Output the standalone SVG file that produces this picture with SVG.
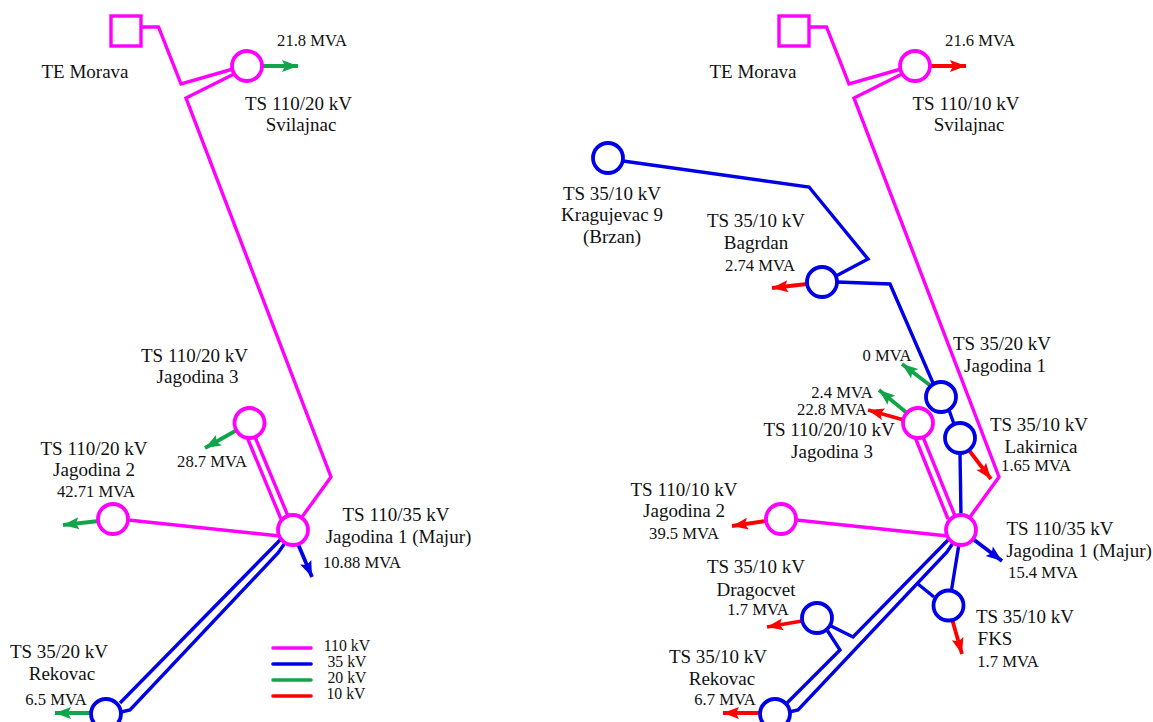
<svg xmlns="http://www.w3.org/2000/svg" width="1153" height="722" viewBox="0 0 1153 722">
<style>
text{font-family:"Liberation Serif","Times New Roman",serif;fill:#111;text-anchor:middle}
.n{font-size:19px}
.v{font-size:16.6px}
.s{font-size:15.8px}
.l{fill:none;stroke-width:3.4;stroke-linejoin:miter}
.c{fill:#fff;stroke-width:3.8}
.m{stroke:#ff00ff}
.b{stroke:#0000e6}
.g{stroke:#10a54a}
.r{stroke:#ff0000}
.a{fill:none;stroke-width:3.8}
.lg{fill:none;stroke-width:3.6;stroke-linecap:round}
</style>
<defs>
<marker id="ag" markerUnits="userSpaceOnUse" markerWidth="20" markerHeight="16" refX="18" refY="8" orient="auto"><path d="M18,8L2,2L5,8L2,14Z" fill="#10a54a"/></marker>
<marker id="ar" markerUnits="userSpaceOnUse" markerWidth="20" markerHeight="16" refX="18" refY="8" orient="auto"><path d="M18,8L2,2L5,8L2,14Z" fill="#ff0000"/></marker>
<marker id="ab" markerUnits="userSpaceOnUse" markerWidth="20" markerHeight="16" refX="18" refY="8" orient="auto"><path d="M18,8L2,2L5,8L2,14Z" fill="#0000e6"/></marker>
</defs>
<g id="connectors">
<path class="l m" d="M141,27H158.5L181,84L233,69"/>
<path class="l m" d="M234,74L186,98L331,477L302,517"/>
<path class="l m" d="M247,437L281,519M255,437L288,516"/>
<path class="l m" d="M128,520L280,536"/>
<path class="l b" d="M282,538L120,703"/>
<path class="l b" d="M285,543L278,553L130,710L121,712"/>
<path class="a g" marker-end="url(#ag)" d="M262,66H298"/>
<path class="a g" marker-end="url(#ag)" d="M237,430L205,448"/>
<path class="a g" marker-end="url(#ag)" d="M99,521L63,525"/>
<path class="a b" marker-end="url(#ab)" d="M298,544L312,577"/>
<path class="a g" marker-end="url(#ag)" d="M91,713H55"/>
<path class="l m" d="M809,27H826.5L849,84L901,69"/>
<path class="l m" d="M902,74L854,98L999,477L970,517"/>
<path class="l m" d="M915,437L948,519M923,437L955,516"/>
<path class="l m" d="M796,520L948,536"/>
<path class="l b" d="M623,161L809,187L868,259L836,276"/>
<path class="l b" d="M837,282L890,284L933,383"/>
<path class="l b" d="M949,410L954,424"/>
<path class="l b" d="M960,452L961,517"/>
<path class="l b" d="M950,538L853,637L829,625"/>
<path class="l b" d="M953,543L947,552L798,710L789,712"/>
<path class="l b" d="M827,630L840,650L787,703"/>
<path class="l b" d="M959,544L951.500,590"/>
<path class="l b" d="M918,584L934,597"/>
<path class="a r" marker-end="url(#ar)" d="M930,66H966"/>
<path class="a r" marker-end="url(#ar)" d="M807,284L772,288"/>
<path class="a g" marker-end="url(#ag)" d="M931,386L902,364"/>
<path class="a g" marker-end="url(#ag)" d="M907,413L879,390"/>
<path class="a r" marker-end="url(#ar)" d="M904,420L868,410"/>
<path class="a r" marker-end="url(#ar)" d="M968,449L991,479"/>
<path class="a r" marker-end="url(#ar)" d="M766,521L732,526"/>
<path class="a b" marker-end="url(#ab)" d="M973,539L1002,561"/>
<path class="a r" marker-end="url(#ar)" d="M802,621L767,627"/>
<path class="a r" marker-end="url(#ar)" d="M952,619L962,654"/>
<path class="a r" marker-end="url(#ar)" d="M759,713H723"/>
</g>
<g id="n-te-morava-l"><rect x="111" y="16" width="30" height="30" fill="#fff" stroke="#ff00ff" stroke-width="3.4"/><text class="n" x="85" y="78">TE Morava</text></g>
<g id="n-svilajnac-l"><circle class="c m" cx="247" cy="66" r="15"/><text class="v" x="312" y="46">21.8 MVA</text><text class="n" x="298.500" y="110">TS 110/20 kV</text><text class="n" x="301" y="131">Svilajnac</text></g>
<g id="n-jagodina3-l"><circle class="c m" cx="249.500" cy="423" r="15"/><text class="n" x="194.500" y="362">TS 110/20 kV</text><text class="n" x="197.500" y="383">Jagodina 3</text><text class="v" x="212" y="467">28.7 MVA</text></g>
<g id="n-jagodina2-l"><circle class="c m" cx="113" cy="519" r="15"/><text class="n" x="94" y="455">TS 110/20 kV</text><text class="n" x="94" y="476">Jagodina 2</text><text class="v" x="96" y="497">42.71 MVA</text></g>
<g id="n-majur-l"><circle class="c m" cx="293" cy="530" r="15"/><text class="n" x="396" y="521">TS 110/35 kV</text><text class="n" x="398.500" y="543">Jagodina 1 (Majur)</text><text class="v" x="362" y="568">10.88 MVA</text></g>
<g id="n-rekovac-l"><circle class="c b" cx="106" cy="714" r="15"/><text class="n" x="59" y="658">TS 35/20 kV</text><text class="n" x="62" y="680">Rekovac</text><text class="v" x="56" y="705">6.5 MVA</text></g>
<g id="legend">
<path class="lg m" d="M273,648H311"/><path class="lg b" d="M273,664H311"/><path class="lg g" d="M273,680H311"/><path class="lg r" d="M273,696H311"/>
<text class="s" x="347" y="651">110 kV</text><text class="s" x="347" y="667">35 kV</text><text class="s" x="347" y="683">20 kV</text><text class="s" x="346" y="699">10 kV</text>
</g>
<g id="n-te-morava-r"><rect x="779" y="16" width="30" height="30" fill="#fff" stroke="#ff00ff" stroke-width="3.4"/><text class="n" x="753" y="78">TE Morava</text></g>
<g id="n-svilajnac-r"><circle class="c m" cx="915" cy="66" r="15"/><text class="v" x="980" y="46">21.6 MVA</text><text class="n" x="966" y="110">TS 110/10 kV</text><text class="n" x="969" y="131">Svilajnac</text></g>
<g id="n-kragujevac"><circle class="c b" cx="608" cy="158" r="15"/><text class="n" x="612" y="200">TS 35/10 kV</text><text class="n" x="612" y="221">Kragujevac 9</text><text class="n" x="612" y="243">(Brzan)</text></g>
<g id="n-bagrdan"><circle class="c b" cx="822" cy="282" r="15"/><text class="n" x="756" y="227">TS 35/10 kV</text><text class="n" x="756" y="249">Bagrdan</text><text class="v" x="760" y="271">2.74 MVA</text></g>
<g id="n-jagodina1"><circle class="c b" cx="941" cy="397" r="15"/><text class="n" x="1002" y="350">TS 35/20 kV</text><text class="n" x="1005" y="372">Jagodina 1</text><text class="v" x="887" y="361">0 MVA</text></g>
<g id="n-lakirnica"><circle class="c b" cx="960" cy="438" r="15"/><text class="n" x="1039" y="431">TS 35/10 kV</text><text class="n" x="1041" y="453">Lakirnica</text><text class="v" x="1036" y="471">1.65 MVA</text></g>
<g id="n-jagodina3-r"><circle class="c m" cx="918" cy="423" r="15"/><text class="v" x="842" y="398">2.4 MVA</text><text class="v" x="832" y="415">22.8 MVA</text><text class="n" x="829" y="436">TS 110/20/10 kV</text><text class="n" x="832" y="458">Jagodina 3</text></g>
<g id="n-jagodina2-r"><circle class="c m" cx="781" cy="519" r="15"/><text class="n" x="684" y="496">TS 110/10 kV</text><text class="n" x="684" y="517">Jagodina 2</text><text class="v" x="684" y="539">39.5 MVA</text></g>
<g id="n-majur-r"><circle class="c m" cx="961" cy="530" r="15"/><text class="n" x="1060" y="535">TS 110/35 kV</text><text class="n" x="1079" y="557">Jagodina 1 (Majur)</text><text class="v" x="1043" y="578">15.4 MVA</text></g>
<g id="n-dragocvet"><circle class="c b" cx="817" cy="618" r="15"/><text class="n" x="756" y="573">TS 35/10 kV</text><text class="n" x="756" y="596">Dragocvet</text><text class="v" x="758" y="615">1.7 MVA</text></g>
<g id="n-fks"><circle class="c b" cx="948.500" cy="605.500" r="15"/><text class="n" x="1025" y="623">TS 35/10 kV</text><text class="n" x="995" y="645">FKS</text><text class="v" x="1008" y="667">1.7 MVA</text></g>
<g id="n-rekovac-r"><circle class="c b" cx="775" cy="714" r="15"/><text class="n" x="718" y="663">TS 35/10 kV</text><text class="n" x="722" y="685">Rekovac</text><text class="v" x="725" y="705">6.7 MVA</text></g>
</svg>
